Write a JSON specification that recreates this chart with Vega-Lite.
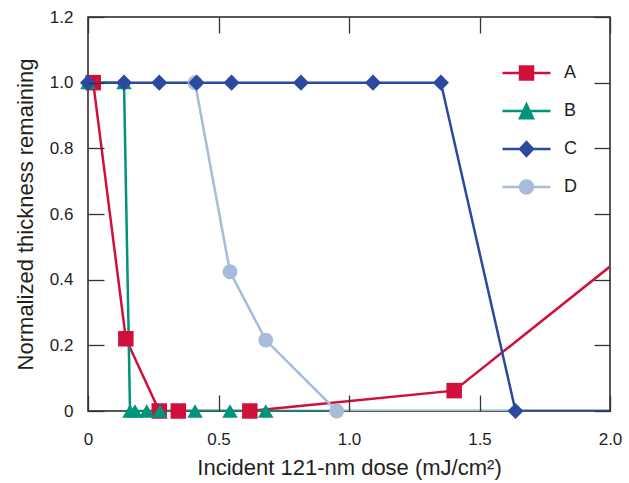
{
  "$schema": "https://vega.github.io/schema/vega-lite/v6.json",
  "width": 522,
  "height": 394,
  "autosize": {"type": "none"},
  "padding": {"left": 88, "top": 17, "right": 19, "bottom": 72},
  "background": "white",
  "config": {
    "view": {"stroke": "#231f20", "strokeWidth": 1.5},
    "font": "Liberation Sans",
    "axis": {
      "domain": false,
      "grid": false,
      "labelFlush": false,
      "labelFont": "Liberation Sans",
      "labelFontSize": 17,
      "labelColor": "#231f20",
      "titleFont": "Liberation Sans",
      "titleFontWeight": "normal",
      "titleColor": "#231f20"
    }
  },
  "data": {
    "values": [
      {"series": "A", "dose": 0.02, "thickness": 1.0, "hidden": false},
      {"series": "A", "dose": 0.145, "thickness": 0.22, "hidden": false},
      {"series": "A", "dose": 0.273, "thickness": 0.0, "hidden": false},
      {"series": "A", "dose": 0.346, "thickness": 0.0, "hidden": false},
      {"series": "A", "dose": 0.62, "thickness": 0.0, "hidden": false},
      {"series": "A", "dose": 1.403, "thickness": 0.062, "hidden": false},
      {"series": "A", "dose": 2.0, "thickness": 0.44, "hidden": true},
      {"series": "B", "dose": 0.0, "thickness": 1.0, "hidden": false},
      {"series": "B", "dose": 0.138, "thickness": 1.0, "hidden": false},
      {"series": "B", "dose": 0.161, "thickness": 0.0, "hidden": false},
      {"series": "B", "dose": 0.18, "thickness": 0.0, "hidden": false},
      {"series": "B", "dose": 0.225, "thickness": 0.0, "hidden": false},
      {"series": "B", "dose": 0.276, "thickness": 0.0, "hidden": false},
      {"series": "B", "dose": 0.41, "thickness": 0.0, "hidden": false},
      {"series": "B", "dose": 0.544, "thickness": 0.0, "hidden": false},
      {"series": "B", "dose": 0.681, "thickness": 0.0, "hidden": false},
      {"series": "B", "dose": 2.0, "thickness": 0.0, "hidden": true},
      {"series": "D", "dose": 0.41, "thickness": 1.0, "hidden": false},
      {"series": "D", "dose": 0.544, "thickness": 0.424, "hidden": false},
      {"series": "D", "dose": 0.681, "thickness": 0.216, "hidden": false},
      {"series": "D", "dose": 0.953, "thickness": 0.0, "hidden": false},
      {"series": "D", "dose": 1.638, "thickness": 0.0, "hidden": true},
      {"series": "C", "dose": 0.0, "thickness": 1.0, "hidden": false},
      {"series": "C", "dose": 0.138, "thickness": 1.0, "hidden": false},
      {"series": "C", "dose": 0.273, "thickness": 1.0, "hidden": false},
      {"series": "C", "dose": 0.416, "thickness": 1.0, "hidden": false},
      {"series": "C", "dose": 0.55, "thickness": 1.0, "hidden": false},
      {"series": "C", "dose": 0.816, "thickness": 1.0, "hidden": false},
      {"series": "C", "dose": 1.092, "thickness": 1.0, "hidden": false},
      {"series": "C", "dose": 1.352, "thickness": 1.0, "hidden": false},
      {"series": "C", "dose": 1.638, "thickness": 0.0, "hidden": false},
      {"series": "C", "dose": 2.0, "thickness": 0.0, "hidden": true}
    ]
  },
  "resolve": {"axis": {"x": "independent", "y": "independent"}},
  "layer": [
    {
      "mark": {"type": "line", "strokeWidth": 2.5, "clip": true},
      "encoding": {
        "x": {
          "field": "dose", "type": "quantitative",
          "scale": {"domain": [0, 2], "nice": false, "zero": false},
          "axis": {
            "orient": "bottom",
            "values": [0, 0.5, 1, 1.5, 2],
            "labelExpr": "datum.value === 0 ? '0' : format(datum.value, '.1f')",
            "ticks": true,
            "tickColor": "#333333",
            "tickWidth": 1.3,
            "tickSize": 16,
            "offset": -16,
            "zindex": 1,
            "labelPadding": 20,
            "title": "Incident 121-nm dose (mJ/cm²)",
            "titleFontSize": 22,
            "titlePadding": 10
          }
        },
        "y": {
          "field": "thickness", "type": "quantitative",
          "scale": {"domain": [0, 1.2], "nice": false, "zero": false},
          "axis": {
            "orient": "left",
            "values": [0, 0.2, 0.4, 0.6, 0.8, 1.0, 1.2],
            "labelExpr": "datum.value === 0 ? '0' : format(datum.value, '.1f')",
            "ticks": true,
            "tickColor": "#333333",
            "tickWidth": 1.3,
            "tickSize": 16,
            "offset": -16,
            "zindex": 1,
            "labelPadding": 15,
            "title": "Normalized thickness remaining",
            "titleFontSize": 22,
            "titlePadding": 12
          }
        },
        "color": {
          "field": "series", "type": "nominal",
          "scale": {"domain": ["A", "B", "C", "D"], "range": ["#d0103a", "#00947a", "#2b4a9f", "#a7bcd9"]},
          "legend": {
            "title": null,
            "orient": "none",
            "legendX": 413,
            "legendY": 37,
            "symbolSize": 2304,
            "symbolStrokeWidth": 2.5,
            "clipHeight": 38,
            "rowPadding": 0,
            "labelOffset": 12,
            "labelFontSize": 18,
            "labelColor": "#231f20",
            "labelFont": "Liberation Sans",
            "padding": 0,
            "encode": {
              "symbols": {
                "update": {
                  "shape": {"signal": "datum.value === 'A' ? 'M-1,0H1M-0.27,-0.27H0.27V0.27H-0.27Z' : datum.value === 'B' ? 'M-1,0H1M0,-0.27L0.27,0.3H-0.27Z' : datum.value === 'C' ? 'M-1,0H1M0,-0.29L0.27,0L0,0.29L-0.27,0Z' : 'M-1,0H1M0.27,0A0.27,0.27,0,1,1,-0.27,0A0.27,0.27,0,1,1,0.27,0Z'"},
                  "fill": {"scale": "color", "field": "value"},
                  "stroke": {"scale": "color", "field": "value"},
                  "strokeWidth": {"value": 2.5},
                  "opacity": {"value": 1}
                }
              }
            }
          }
        },
        "order": {"field": "dose", "type": "quantitative"}
      }
    },
    {
      "transform": [{"filter": "!datum.hidden && datum.series === 'A'"}],
      "mark": {"type": "point", "shape": "square", "filled": true, "opacity": 1, "size": 240},
      "encoding": {
        "x": {"field": "dose", "type": "quantitative", "axis": null},
        "y": {"field": "thickness", "type": "quantitative", "axis": null},
        "color": {"field": "series", "type": "nominal"}
      }
    },
    {
      "transform": [{"filter": "!datum.hidden && datum.series === 'B'"}],
      "mark": {"type": "point", "shape": "triangle-up", "filled": true, "opacity": 1, "size": 240},
      "encoding": {
        "x": {"field": "dose", "type": "quantitative", "axis": null},
        "y": {"field": "thickness", "type": "quantitative", "axis": null},
        "color": {"field": "series", "type": "nominal"}
      }
    },
    {
      "transform": [{"filter": "!datum.hidden && datum.series === 'D'"}],
      "mark": {"type": "point", "shape": "circle", "filled": true, "opacity": 1, "size": 220},
      "encoding": {
        "x": {"field": "dose", "type": "quantitative", "axis": null},
        "y": {"field": "thickness", "type": "quantitative", "axis": null},
        "color": {"field": "series", "type": "nominal"}
      }
    },
    {
      "transform": [{"filter": "!datum.hidden && datum.series === 'C'"}],
      "mark": {"type": "point", "shape": "diamond", "filled": true, "opacity": 1, "size": 260},
      "encoding": {
        "x": {"field": "dose", "type": "quantitative", "axis": null},
        "y": {"field": "thickness", "type": "quantitative", "axis": null},
        "color": {"field": "series", "type": "nominal"}
      }
    },
    {
      "mark": {"type": "rule", "opacity": 0},
      "encoding": {
        "x": {"field": "dose", "type": "quantitative", "axis": {"orient": "top", "values": [0, 0.5, 1, 1.5, 2], "labels": false, "title": null, "ticks": true, "tickColor": "#333333", "tickWidth": 1.3, "tickSize": 16, "offset": -16, "zindex": 1}},
        "y": {"field": "thickness", "type": "quantitative", "axis": {"orient": "right", "values": [0, 0.2, 0.4, 0.6, 0.8, 1.0, 1.2], "labels": false, "title": null, "ticks": true, "tickColor": "#333333", "tickWidth": 1.3, "tickSize": 16, "offset": -16, "zindex": 1}}
      }
    }
  ]
}
